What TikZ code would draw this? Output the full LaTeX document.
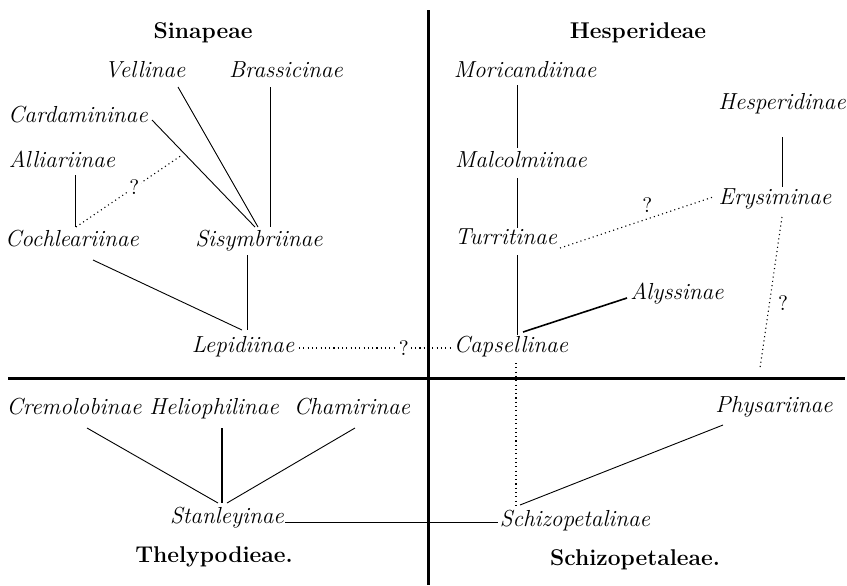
\documentclass[tikz,border=0pt]{standalone}
\usetikzlibrary{calc}
\tikzset{taxon/.style={font=\fontsize{11.6}{14}\selectfont\itshape,inner sep=1pt,text height=1.5ex,text depth=.4ex}}
\tikzset{tribe/.style={font=\fontsize{11.4}{14}\selectfont\bfseries,inner sep=1pt}}
\tikzset{query/.style={font=\fontsize{10.5}{12}\selectfont,fill=white,inner sep=1pt}}
\tikzset{link/.style={line width=0.45pt}}
\tikzset{stronglink/.style={line width=0.8pt}}
\tikzset{maybe/.style={line width=0.55pt,dash pattern=on 0.55pt off 1.6pt}}
\tikzset{divider/.style={line width=1.5pt}}

\begin{document}
\begin{tikzpicture}[x=0.5pt,y=-0.5pt]
	\useasboundingbox (0,0) rectangle (847,585);
	% the four tribes
	\node [tribe] (sinap) at (203,33) {Sinapeae};
	\node [tribe] (hesp) at (638,33) {Hesperideae};
	\node [tribe] (thely) at (214,557) {Thelypodieae.};
	\node [tribe] (schiz) at (635,560) {Schizopetaleae.};
	% Sinapeae
	\node [taxon] (vel) at (145,73) {Vellinae};
	\node [taxon] (bra) at (286,73) {Brassicinae};
	\node [taxon] (car) at (78,118) {Cardamininae};
	\node [taxon] (all) at (62,163) {Alliariinae};
	\node [taxon] (coc) at (72,242) {Cochleariinae};
	\node [taxon] (sis) at (259,242) {Sisymbriinae};
	\node [taxon] (lep) at (243,348) {Lepidiinae};
	% Hesperideae
	\node [taxon] (mor) at (525,73) {Moricandiinae};
	\node [taxon] (mal) at (521,163) {Malcolmiinae};
	\node [taxon] (tur) at (506,240) {Turritinae};
	\node [taxon] (hes) at (782,105) {Hesperidinae};
	\node [taxon] (ery) at (775,200) {Erysiminae};
	\node [taxon] (aly) at (677,295) {Alyssinae};
	\node [taxon] (cap) at (511,348) {Capsellinae};
	% Thelypodieae
	\node [taxon] (cre) at (74,410) {Cremolobinae};
	\node [taxon] (hel) at (214,410) {Heliophilinae};
	\node [taxon] (cha) at (352,410) {Chamirinae};
	\node [taxon] (sta) at (227,519) {Stanleyinae};
	% Schizopetaleae
	\node [taxon] (phy) at (774,408) {Physariinae};
	\node [taxon] (sch) at (575,522) {Schizopetalinae};

	\coordinate (cardend) at (182,155);
	\coordinate (eryend) at (760,368);

	\draw [divider] (428,10) -- (428,585);
	\draw [divider] (8,378) -- (845,378);

	\draw [link] ($(vel)+(33,14)$) -- ($(sis)+(-1,-15)$);
	\draw [link] ($(bra)+(-16,14)$) -- ($(sis)+(11,-15)$);
	\draw [link] ($(car)+(74,2)$) -- ($(sis)+(-4,-15)$);
	\draw [link] ($(all)+(13,12)$) -- ($(coc)+(3,-15)$);
	\draw [maybe] ($(coc)+(4,-15)$) -- node [query,pos=.55] (qcoc) {?} (cardend);
	\draw [link] ($(coc)+(21,18)$) -- ($(lep)+(-1,-18)$);
	\draw [link] ($(sis)+(-12,13)$) -- ($(lep)+(4,-18)$);
	\draw [maybe] ($(lep)+(56,0)$) -- node [query,pos=.69] (qlep) {?} ($(cap)+(-60,0)$);

	\draw [link] ($(mor)+(-8,12)$) -- ($(mal)+(-4,-15)$);
	\draw [link] ($(mal)+(-4,15)$) -- ($(tur)+(11,-12)$);
	\draw [link] ($(tur)+(11,15)$) -- ($(cap)+(6,-13)$);
	\draw [maybe] ($(tur)+(54,8)$) -- node [query,pos=.57,above=2pt,fill=none] (qtur) {?} ($(ery)+(-62,-3)$);
	\draw [link] ($(hes)+(0,32)$) -- ($(ery)+(7,-13)$);
	\draw [maybe] ($(ery)+(7,17)$) -- node [query,pos=.57,right=3pt,fill=none] (qery) {?} (eryend);
	\draw [stronglink] ($(aly)+(-50,3)$) -- ($(cap)+(12,-16)$);

	\draw [maybe] ($(cap)+(5,15)$) -- ($(sch)+(-59,-15)$);
	\draw [link] ($(phy)+(-51,17)$) -- ($(sch)+(-55,-17)$);
	\draw [link] ($(sta)+(58,3)$) -- ($(sch)+(-77,0)$);

	\draw [link] ($(cre)+(13,18)$) -- ($(sta)+(-9,-16)$);
	\draw [stronglink] ($(hel)+(8,18)$) -- ($(sta)+(-5,-16)$);
	\draw [link] ($(cha)+(3,18)$) -- ($(sta)+(0,-16)$);
\end{tikzpicture}
\end{document}
